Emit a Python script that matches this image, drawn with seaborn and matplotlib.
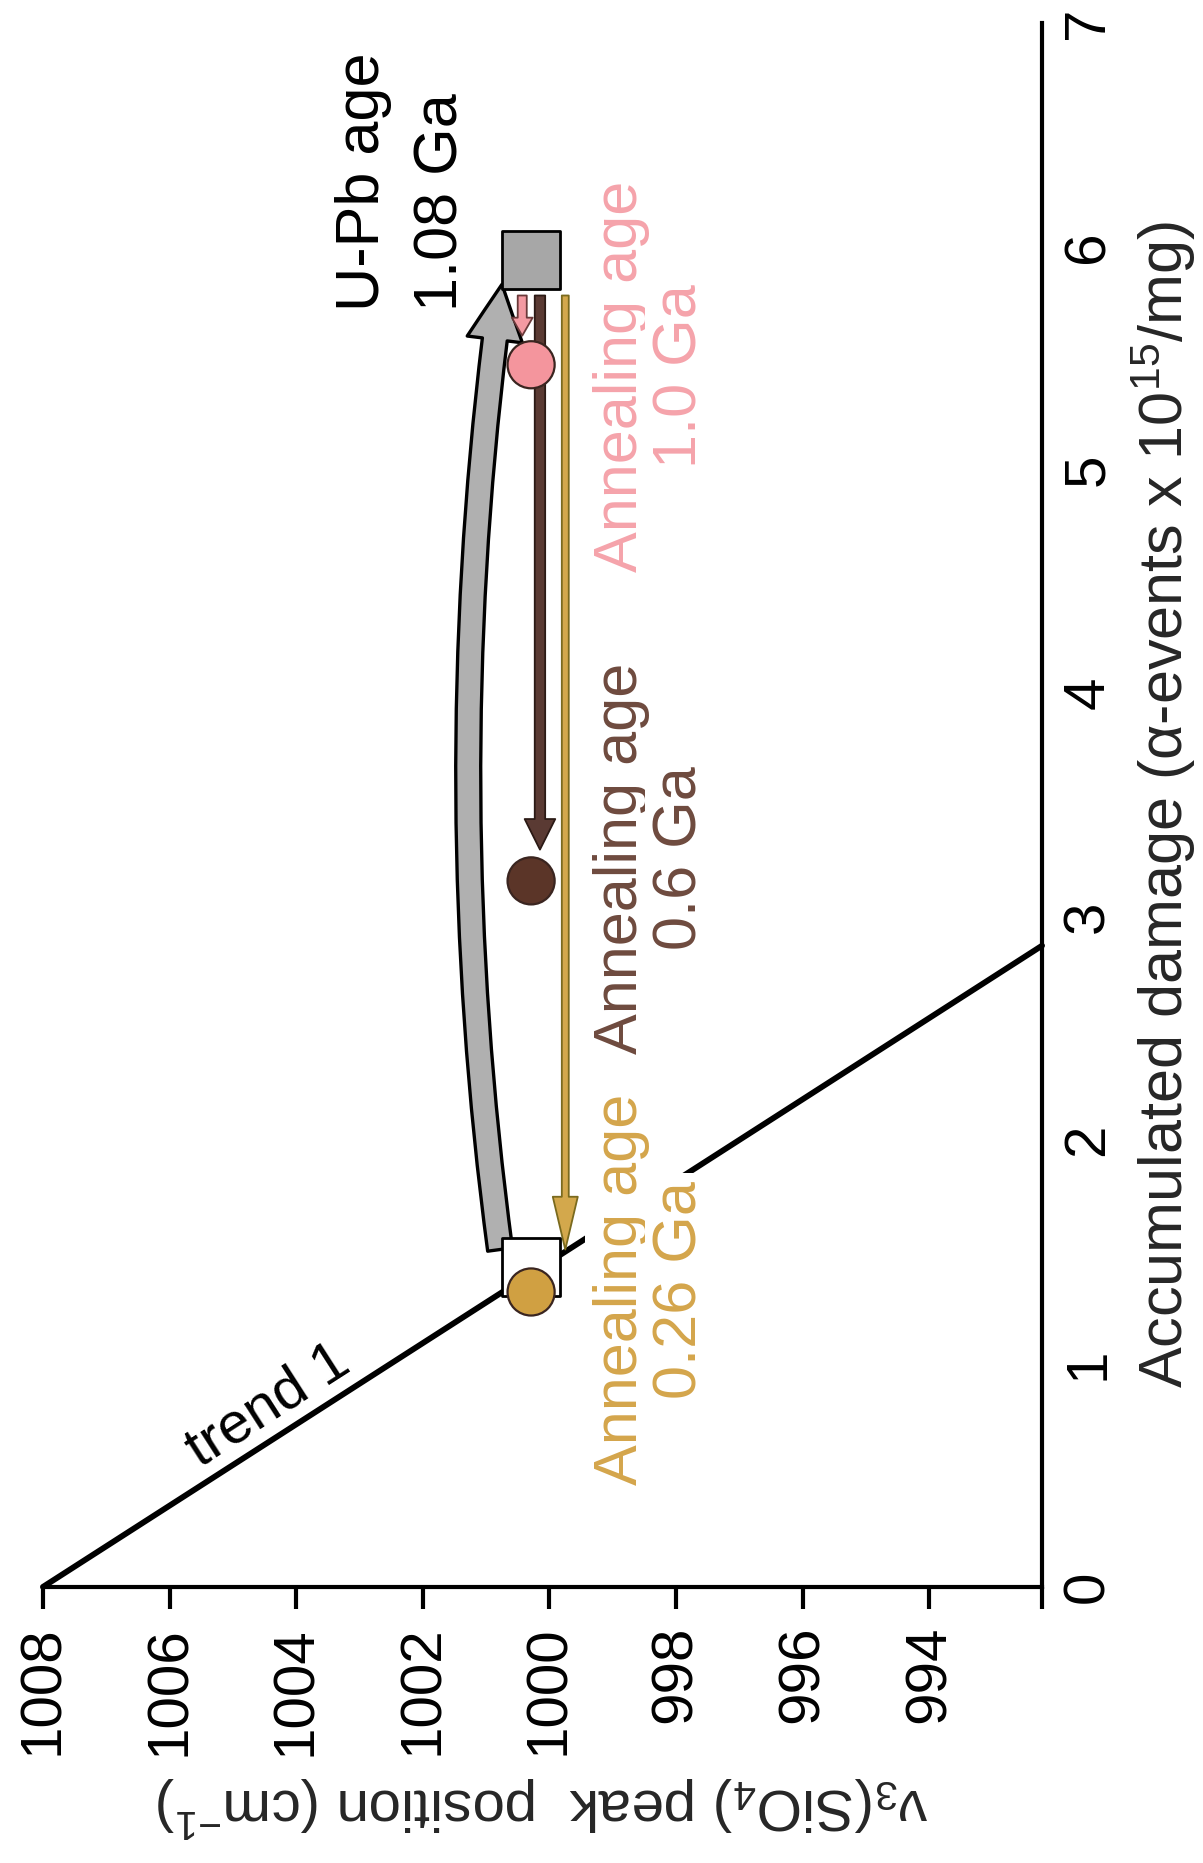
import numpy as np
import pandas as pd
import matplotlib
matplotlib.use("Agg")
import matplotlib.pyplot as plt
from matplotlib.patches import FancyArrowPatch
import seaborn as sns

# ---- axis ticks and limits -------------------------------------------
peak_ticks = [1008, 1006, 1004, 1002, 1000, 998, 996, 994]
damage_ticks = [0, 1, 2, 3, 4, 5, 6, 7]
peak_lim = (1008.0, 992.22)
damage_lim = (0.0, 7.0)

# ---- trend 1 ---------------------------------------------------------
trend_peak = [1008.0, 992.22]
trend_damage = [0.0, 2.87]

# ---- samples: U-Pb age and reference point (squares) -----------------
square_names = ["U-Pb age", "start"]
square_peak = [1000.29, 1000.29]
square_damage = [5.94, 1.43]
square_colors = ["#a7a7a7", "#ffffff"]

# ---- annealed states (circles) ---------------------------------------
circle_names = ["1.0 Ga", "0.6 Ga", "0.26 Ga"]
circle_peak = [1000.29, 1000.29, 1000.29]
circle_damage = [5.47, 3.16, 1.32]
circle_colors = ["#f4959d", "#5b3528", "#d0a042"]

# ---- annealing arrows (straight, downward in damage) ----------------
arrow_peak = [1000.43, 1000.15, 999.75]
arrow_from = [5.78, 5.78, 5.78]
arrow_to = [5.60, 3.30, 1.51]
arrow_fill = ["#f39aa2", "#5a3a33", "#d3a84c"]
arrow_edge = ["#6a3a3a", "#2b1a15", "#7a6a1e"]

# ---- accumulation arrow (curved) -------------------------------------
accum_peak = [1000.78, 1000.75]
accum_damage = [1.51, 5.83]

# ---- text labels -----------------------------------------------------
upb_lines = ["U-Pb age", "1.08 Ga"]
anneal_lines = [["Annealing age", "1.0 Ga"],
                ["Annealing age", "0.6 Ga"],
                ["Annealing age", "0.26 Ga"]]
anneal_damage = [5.42, 3.26, 1.33]
anneal_colors = ["#f5a3ab", "#6e4a3e", "#d4a54b"]
xlabel = "ν$_3$(SiO$_4$) peak  position (cm$^{-1}$)"
ylabel = "Accumulated damage (α-events x 10$^{15}$/mg)"

# ---- style -----------------------------------------------------------
sns.set_theme(style="white")
plt.rcParams["font.family"] = ["Liberation Sans", "DejaVu Sans"]
plt.rcParams["mathtext.fontset"] = "custom"
plt.rcParams["mathtext.rm"] = "Liberation Sans"
plt.rcParams["mathtext.it"] = "Liberation Sans:italic"
plt.rcParams["mathtext.default"] = "regular"

FS = 42
fig = plt.figure(figsize=(12.03, 18.63), dpi=100)
fig.patch.set_facecolor("white")
ax = fig.add_axes([0.0357, 0.1482, 0.8305, 0.8395])
ax.set_facecolor("white")

ax.set_xlim(*peak_lim)
ax.set_ylim(*damage_lim)

# spines: bottom (peak position) and right (damage)
for side in ["left", "top"]:
    ax.spines[side].set_visible(False)
for side in ["bottom", "right"]:
    ax.spines[side].set_visible(True)
    ax.spines[side].set_linewidth(3.0)
    ax.spines[side].set_color("black")

ax.set_xticks(peak_ticks + [peak_lim[1]])
ax.set_xticklabels([str(t) for t in peak_ticks] + [""])
ax.tick_params(axis="x", direction="out", length=16, width=3, pad=12,
               labelsize=FS, labelrotation=90, colors="black", bottom=True)

ax.yaxis.tick_right()
ax.yaxis.set_label_position("right")
ax.set_yticks(damage_ticks)
ax.set_yticklabels([str(t) for t in damage_ticks])
ax.tick_params(axis="y", length=0, pad=14, labelsize=FS, labelrotation=90,
               colors="black", left=False, right=True)
for lab in ax.get_yticklabels():
    lab.set_verticalalignment("center")

ax.set_xlabel(xlabel, fontsize=FS, rotation=180, labelpad=14)
ax.set_ylabel(ylabel, fontsize=FS + 2, rotation=90, labelpad=10)

# trend 1 line
sns.lineplot(x=trend_peak, y=trend_damage, ax=ax, color="black", lw=4.2,
             sort=False, zorder=2, clip_on=False, legend=False)
p1 = ax.transData.transform((trend_peak[0], trend_damage[0]))
p2 = ax.transData.transform((trend_peak[1], trend_damage[1]))
angle = np.degrees(np.arctan2(p2[1] - p1[1], p2[0] - p1[0]))
ax.text(1004.45, 0.81, "trend 1", fontsize=FS, rotation=angle,
        rotation_mode="anchor", ha="center", va="center", color="black")

# curved accumulation arrow
accum = FancyArrowPatch((accum_peak[0], accum_damage[0]),
                        (accum_peak[1], accum_damage[1]),
                        connectionstyle="arc3,rad=-0.068",
                        arrowstyle="simple,head_length=40,head_width=40,tail_width=18",
                        mutation_scale=1, shrinkA=0, shrinkB=0,
                        facecolor="#b0b0b0", edgecolor="black", lw=2.4, zorder=3)
ax.add_patch(accum)

# straight annealing arrows
arrow_dims = [(13, 15, 6.5), (22, 22, 7.5), (38, 18, 5)]
for pk, a0, a1, fc, ec, (hl, hw, tw) in zip(arrow_peak, arrow_from, arrow_to,
                                            arrow_fill, arrow_edge, arrow_dims):
    arr = FancyArrowPatch((pk, a0), (pk, a1),
                          arrowstyle=f"simple,head_length={hl},head_width={hw},tail_width={tw}",
                          mutation_scale=1, shrinkA=0, shrinkB=0,
                          facecolor=fc, edgecolor=ec, lw=1.3, zorder=4)
    ax.add_patch(arr)

# squares and circles
sq = pd.DataFrame({"peak": square_peak, "damage": square_damage, "name": square_names})
sns.scatterplot(data=sq, x="peak", y="damage", hue="name",
                palette=dict(zip(square_names, square_colors)), marker="s",
                s=1750, edgecolor="black", linewidth=2.0, zorder=5,
                legend=False, ax=ax, clip_on=False)
ci = pd.DataFrame({"peak": circle_peak, "damage": circle_damage, "name": circle_names})
sns.scatterplot(data=ci, x="peak", y="damage", hue="name",
                palette=dict(zip(circle_names, circle_colors)), marker="o",
                s=1150, edgecolor="#3a2520", linewidth=1.6, zorder=6,
                legend=False, ax=ax, clip_on=False)

# U-Pb label
ax.text(1002.69, 5.71, upb_lines[0], fontsize=FS + 2, rotation=90,
        rotation_mode="anchor", ha="left", va="baseline", color="black")
ax.text(1001.46, 5.71, upb_lines[1], fontsize=FS + 2, rotation=90,
        rotation_mode="anchor", ha="left", va="baseline", color="black")

# annealing labels
box = dict(boxstyle="square,pad=0.12", facecolor="white", edgecolor="none")
for lines, dmg, col in zip(anneal_lines, anneal_damage, anneal_colors):
    ax.text(998.62, dmg, lines[0], fontsize=FS + 2, rotation=90,
            rotation_mode="anchor", ha="center", va="baseline", color=col,
            bbox=box, zorder=3)
    ax.text(997.68, dmg, lines[1], fontsize=FS + 2, rotation=90,
            rotation_mode="anchor", ha="center", va="baseline", color=col,
            bbox=box, zorder=3)

fig.savefig("out.png", dpi=100, facecolor="white")
